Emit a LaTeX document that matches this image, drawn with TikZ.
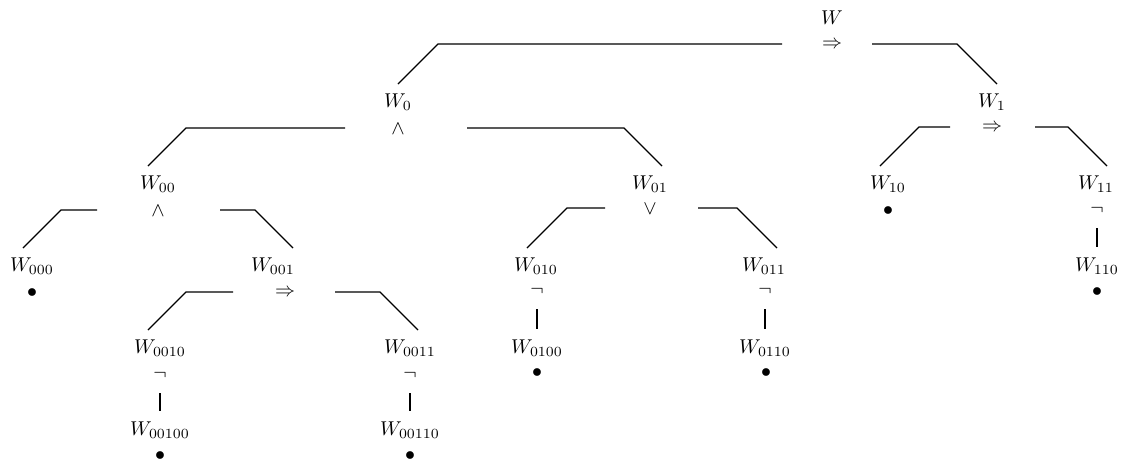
\documentclass[tikz,border=0pt]{standalone}
\usetikzlibrary{calc}
\tikzset{
  lab/.style={inner sep=0pt},
  op/.style={inner sep=0pt},
  edge/.style={line width=0.6pt},
}
\newcommand\branch[5]{%
  \draw[edge] let \p1=($(#1)+(#2,-1)$), \p2=($(#3)+(#4,-18)$) in
    (\p1) -- ({\x2 #5 (\y1-\y2)},\y1) -- (\p2);}
\newcommand\negbar[2]{\draw[edge] let \p1=(#1), \p2=(#2) in ($(\x1,\y1)+(0,18)$) -- ($(\x1,\y2)+(0,-19)$);}
\begin{document}
\begin{tikzpicture}[x=0.5pt,y=-0.5pt]
\useasboundingbox (0,0) rectangle (1130,463);
% level 0
\node[lab] (W) at (832,18) {$W$};
\node[op] (Wop) at (832,45) {$\Rightarrow$};
% level 1
\node[lab] (W0) at (398,102) {$W_0$};
\node[op] (W0op) at (398,129) {$\wedge$};
\node[lab] (W1) at (992,102) {$W_1$};
\node[op] (W1op) at (992,128) {$\Rightarrow$};
% level 2
\node[lab] (W00) at (158,184) {$W_{00}$};
\node[op] (W00op) at (158,211) {$\wedge$};
\node[lab] (W01) at (650,184) {$W_{01}$};
\node[op] (W01op) at (650,209) {$\vee$};
\node[lab] (W10) at (888,184) {$W_{10}$};
\node[op] (W10b) at (888,211) {$\bullet$};
\node[lab] (W11) at (1096,184) {$W_{11}$};
\node[op] (W11op) at (1097,210) {$\neg$};
% level 3
\node[lab] (W000) at (32,266) {$W_{000}$};
\node[op] (W000b) at (32,293) {$\bullet$};
\node[lab] (W001) at (273,266) {$W_{001}$};
\node[op] (W001op) at (285,293) {$\Rightarrow$};
\node[lab] (W010) at (536,266) {$W_{010}$};
\node[op] (W010op) at (537,291) {$\neg$};
\node[lab] (W011) at (764,266) {$W_{011}$};
\node[op] (W011op) at (765,291) {$\neg$};
\node[lab] (W110) at (1097,266) {$W_{110}$};
\node[op] (W110b) at (1097,292) {$\bullet$};
% level 4
\node[lab] (W0010) at (160,348) {$W_{0010}$};
\node[op] (W0010op) at (160,375) {$\neg$};
\node[lab] (W0011) at (410,348) {$W_{0011}$};
\node[op] (W0011op) at (410,375) {$\neg$};
\node[lab] (W0100) at (537,348) {$W_{0100}$};
\node[op] (W0100b) at (537,373) {$\bullet$};
\node[lab] (W0110) at (765,348) {$W_{0110}$};
\node[op] (W0110b) at (766,373) {$\bullet$};
% level 5
\node[lab] (W00100) at (160,430) {$W_{00100}$};
\node[op] (W00100b) at (160,456) {$\bullet$};
\node[lab] (W00110) at (410,430) {$W_{00110}$};
\node[op] (W00110b) at (410,456) {$\bullet$};
% branches
\branch{Wop}{-50}{W0}{0}{+}
\branch{Wop}{40}{W1}{5}{-}
\branch{W0op}{-53}{W00}{-10}{+}
\branch{W0op}{69}{W01}{12}{-}
\branch{W1op}{-42}{W10}{-8}{+}
\branch{W1op}{43}{W11}{11}{-}
\branch{W00op}{-61}{W000}{-9}{+}
\branch{W00op}{62}{W001}{20}{-}
\branch{W01op}{-45}{W010}{-9}{+}
\branch{W01op}{48}{W011}{13}{-}
\branch{W001op}{-52}{W0010}{-12}{+}
\branch{W001op}{50}{W0011}{8}{-}
% negation bars
\negbar{W11op}{W110}
\negbar{W010op}{W0100}
\negbar{W011op}{W0110}
\negbar{W0010op}{W00100}
\negbar{W0011op}{W00110}
\end{tikzpicture}
\end{document}
